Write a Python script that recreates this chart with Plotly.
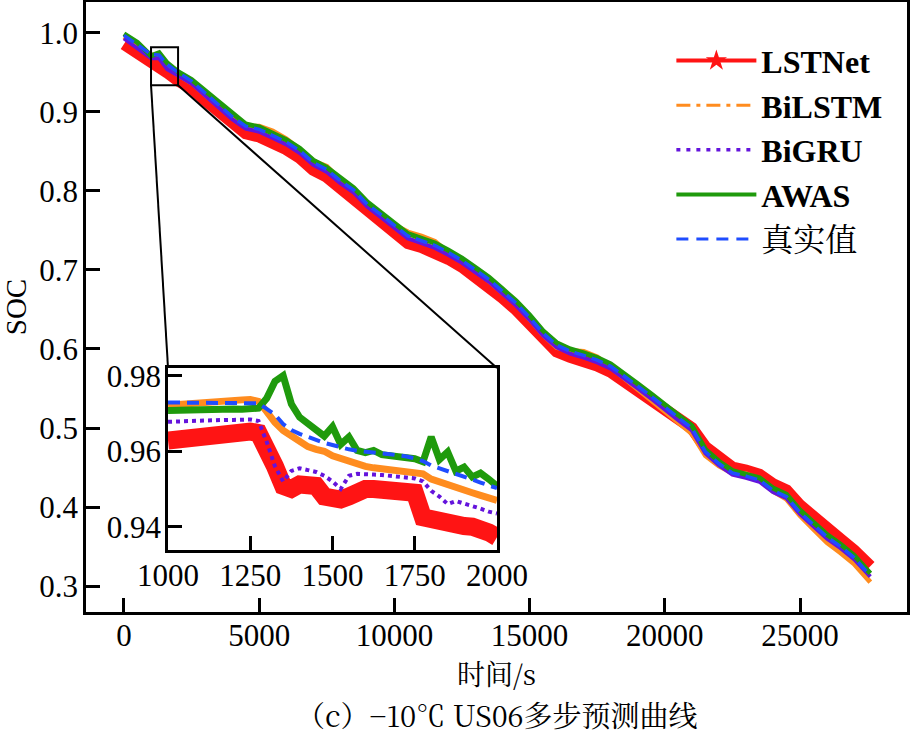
import plotly.graph_objects as go

# ---------------- data ----------------
series_names = ["LSTNet", "BiLSTM", "BiGRU", "AWAS", "真实值"]

time_s = [0, 500, 1000, 1300, 1600, 2000, 2500, 3000, 3500, 4000, 4500, 5000, 5500, 6000,
          6500, 7000, 7500, 8000, 8500, 9000, 9500, 10000, 10500, 11000, 11500, 12000, 12500,
          13000, 13500, 14000, 14500, 15000, 15500, 16000, 16500, 17000, 17500, 18000, 18500,
          19000, 19500, 20000, 20500, 21000, 21500, 22000, 22500, 23000, 23500, 24000, 24500,
          25000, 25500, 26000, 26500, 27000, 27600]

true_soc = [0.997, 0.985, 0.973, 0.972, 0.960, 0.950, 0.939, 0.924, 0.909, 0.894, 0.882, 0.878,
            0.870, 0.862, 0.851, 0.836, 0.827, 0.813, 0.801, 0.783, 0.770, 0.756, 0.743, 0.737,
            0.731, 0.722, 0.712, 0.700, 0.688, 0.673, 0.658, 0.640, 0.620, 0.605, 0.597, 0.592,
            0.586, 0.578, 0.566, 0.553, 0.540, 0.526, 0.513, 0.500, 0.470, 0.455, 0.443, 0.439,
            0.434, 0.421, 0.413, 0.393, 0.377, 0.362, 0.350, 0.336, 0.313]

lstnet_soc = [0.986, 0.975, 0.963, 0.960, 0.950, 0.940, 0.930, 0.915, 0.900, 0.885, 0.873, 0.869,
              0.862, 0.853, 0.842, 0.827, 0.818, 0.804, 0.792, 0.774, 0.761, 0.747, 0.734, 0.729,
              0.723, 0.714, 0.704, 0.692, 0.680, 0.665, 0.650, 0.632, 0.612, 0.597, 0.590, 0.585,
              0.579, 0.571, 0.559, 0.547, 0.535, 0.522, 0.511, 0.500, 0.476, 0.462, 0.450, 0.446,
              0.441, 0.429, 0.421, 0.402, 0.386, 0.371, 0.359, 0.345, 0.325]

bilstm_soc = [0.995, 0.984, 0.972, 0.972, 0.957, 0.947, 0.937, 0.922, 0.908, 0.893, 0.882, 0.882,
              0.876, 0.866, 0.853, 0.838, 0.831, 0.814, 0.802, 0.783, 0.770, 0.757, 0.748, 0.743,
              0.736, 0.722, 0.711, 0.699, 0.686, 0.671, 0.657, 0.638, 0.618, 0.602, 0.598, 0.597,
              0.590, 0.577, 0.563, 0.549, 0.536, 0.521, 0.506, 0.493, 0.465, 0.452, 0.443, 0.442,
              0.435, 0.420, 0.410, 0.389, 0.372, 0.355, 0.342, 0.328, 0.305]

bigru_soc = [0.993, 0.981, 0.968, 0.968, 0.954, 0.946, 0.936, 0.921, 0.906, 0.891, 0.879, 0.875,
             0.867, 0.859, 0.848, 0.833, 0.824, 0.810, 0.798, 0.780, 0.767, 0.753, 0.740, 0.734,
             0.728, 0.719, 0.709, 0.697, 0.685, 0.670, 0.655, 0.637, 0.617, 0.602, 0.594, 0.589,
             0.583, 0.575, 0.563, 0.550, 0.537, 0.523, 0.510, 0.497, 0.468, 0.453, 0.441, 0.437,
             0.432, 0.419, 0.411, 0.391, 0.375, 0.360, 0.348, 0.334, 0.312]

awas_soc = [0.999, 0.988, 0.971, 0.975, 0.962, 0.951, 0.941, 0.927, 0.912, 0.897, 0.885, 0.881,
            0.873, 0.865, 0.854, 0.839, 0.830, 0.816, 0.804, 0.786, 0.773, 0.759, 0.746, 0.740,
            0.734, 0.725, 0.715, 0.703, 0.691, 0.676, 0.661, 0.643, 0.623, 0.608, 0.600, 0.595,
            0.589, 0.581, 0.569, 0.556, 0.543, 0.529, 0.516, 0.503, 0.473, 0.458, 0.446, 0.442,
            0.437, 0.424, 0.416, 0.396, 0.380, 0.365, 0.353, 0.339, 0.316]

# zoomed window 1000-2000 s (inset)
zoom_time_s = [1000, 1025, 1050, 1075, 1100, 1125, 1150, 1175, 1200, 1225, 1250, 1275, 1300,
               1325, 1350, 1375, 1400, 1425, 1450, 1475, 1500, 1525, 1550, 1575, 1600, 1625,
               1650, 1675, 1700, 1725, 1750, 1775, 1800, 1825, 1850, 1875, 1900, 1925, 1950,
               1975, 2000]

zoom_true = [0.9729, 0.9729, 0.9729, 0.9729, 0.9729, 0.9729, 0.9729, 0.9729, 0.9729, 0.9729,
             0.9729, 0.9727, 0.9712, 0.9697, 0.9672, 0.9656, 0.9646, 0.9637, 0.9630, 0.9622,
             0.9616, 0.9610, 0.9605, 0.9601, 0.9598, 0.9596, 0.9594, 0.9592, 0.9590, 0.9586,
             0.9581, 0.9574, 0.9562, 0.9555, 0.9548, 0.9540, 0.9533, 0.9525, 0.9517, 0.9510,
             0.9502]

zoom_awas = [0.9708, 0.9709, 0.9710, 0.9709, 0.9710, 0.9711, 0.9710, 0.9711, 0.9712, 0.9711,
             0.9712, 0.9714, 0.9740, 0.9785, 0.9800, 0.9725, 0.9690, 0.9672, 0.9655, 0.9640,
             0.9665, 0.9618, 0.9638, 0.9602, 0.9596, 0.9602, 0.9591, 0.9589, 0.9587, 0.9584,
             0.9580, 0.9572, 0.9638, 0.9578, 0.9598, 0.9547, 0.9558, 0.9532, 0.9542, 0.9526,
             0.9508]

zoom_bilstm = [0.9722, 0.9724, 0.9725, 0.9727, 0.9728, 0.9730, 0.9731, 0.9733, 0.9734, 0.9736,
               0.9737, 0.9732, 0.9705, 0.9676, 0.9655, 0.9640, 0.9622, 0.9612, 0.9605, 0.9600,
               0.9588, 0.9580, 0.9574, 0.9566, 0.9560, 0.9556, 0.9553, 0.9551, 0.9550, 0.9547,
               0.9543, 0.9540, 0.9526, 0.9518, 0.9510, 0.9503, 0.9497, 0.9490, 0.9483, 0.9477,
               0.9470]

zoom_bigru = [0.9678, 0.9679, 0.9680, 0.9680, 0.9681, 0.9682, 0.9682, 0.9683, 0.9683, 0.9684,
              0.9684, 0.9680, 0.9625, 0.9560, 0.9520, 0.9548, 0.9555, 0.9550, 0.9545, 0.9535,
              0.9520, 0.9500, 0.9535, 0.9540, 0.9540, 0.9538, 0.9537, 0.9535, 0.9533, 0.9532,
              0.9528, 0.9520, 0.9495, 0.9480, 0.9460, 0.9468, 0.9462, 0.9455, 0.9448, 0.9440,
              0.9435]

zoom_lstnet = [0.9628, 0.9631, 0.9634, 0.9637, 0.9640, 0.9642, 0.9645, 0.9647, 0.9649, 0.9650,
               0.9652, 0.9648, 0.9610, 0.9560, 0.9508, 0.9500, 0.9512, 0.9510, 0.9508, 0.9480,
               0.9470, 0.9472, 0.9480, 0.9495, 0.9500, 0.9500, 0.9498, 0.9497, 0.9496, 0.9494,
               0.9490, 0.9425, 0.9418, 0.9414, 0.9410, 0.9405, 0.9402, 0.9400, 0.9396, 0.9385,
               0.9372]

x_ticks = [0, 5000, 10000, 15000, 20000, 25000]
y_ticks = [0.3, 0.4, 0.5, 0.6, 0.7, 0.8, 0.9, 1.0]
zoom_x_ticks = [1000, 1250, 1500, 1750, 2000]
zoom_y_ticks = [0.94, 0.96, 0.98]

x_title = "时间/s"
y_title = "SOC"
caption = "（c）−10℃ US06多步预测曲线"

# ---------------- styling ----------------
FONT = "Liberation Serif, Noto Serif CJK SC, Noto Sans CJK SC, serif"
CJK_FONT = "Noto Serif CJK SC, Noto Sans CJK SC, Liberation Serif, serif"
colors = {"LSTNet": "#ff1414", "BiLSTM": "#ff8c1f", "BiGRU": "#6414dc",
          "AWAS": "#1f9a0c", "真实值": "#1f4dff"}

main_range_x = [-1405, 28957]
main_range_y = [0.2671, 1.0392]
zoom_range_x = [1000, 2000]
zoom_range_y = [0.93383, 0.98204]
inset_dom_x = [0.0999, 0.5006]
inset_dom_y = [0.1016, 0.4]

fig = go.Figure()

main_data = [("LSTNet", lstnet_soc, dict(width=12)),
             ("BiLSTM", bilstm_soc, dict(width=5)),
             ("BiGRU", bigru_soc, dict(width=4)),
             ("AWAS", awas_soc, dict(width=5)),
             ("真实值", true_soc, dict(width=3.5, dash="12px,6px"))]
for name, vals, ln in main_data:
    fig.add_trace(go.Scatter(x=time_s, y=vals, mode="lines", name=name, showlegend=False,
                             line=dict(color=colors[name], **ln), xaxis="x", yaxis="y",
                             hoverinfo="skip"))

zoom_data = [("LSTNet", zoom_lstnet, dict(width=18)),
             ("BiLSTM", zoom_bilstm, dict(width=7)),
             ("BiGRU", zoom_bigru, dict(width=4, dash="4px,4px")),
             ("AWAS", zoom_awas, dict(width=7)),
             ("真实值", zoom_true, dict(width=4, dash="12px,7px"))]
for name, vals, ln in zoom_data:
    fig.add_trace(go.Scatter(x=zoom_time_s, y=vals, mode="lines", name=name, showlegend=False,
                             line=dict(color=colors[name], **ln), xaxis="x2", yaxis="y2",
                             hoverinfo="skip"))

# legend entries
legend_styles = {
    "LSTNet": dict(mode="lines+markers", line=dict(width=4),
                   marker=dict(symbol="star", size=16)),
    "BiLSTM": dict(mode="lines", line=dict(width=3, dash="14px,6px,4px,6px")),
    "BiGRU": dict(mode="lines", line=dict(width=3.5, dash="4px,6px")),
    "AWAS": dict(mode="lines", line=dict(width=4)),
    "真实值": dict(mode="lines", line=dict(width=3, dash="12px,8px")),
}
for i, name in enumerate(series_names):
    st = legend_styles[name]
    line = dict(color=colors[name], **st["line"])
    kw = dict(x=[None], y=[None], mode=st["mode"], name=f"<b>{name}</b>" if i < 4 else name,
              line=line, showlegend=True, xaxis="x", yaxis="y")
    if "marker" in st:
        kw["marker"] = dict(color=colors[name], **st["marker"])
    fig.add_trace(go.Scatter(**kw))

axis_common = dict(showline=True, linewidth=2.5, linecolor="black", mirror=True,
                   ticks="inside", ticklen=14, tickwidth=2.5, tickcolor="black",
                   showgrid=False, zeroline=False, automargin=False,
                   tickfont=dict(family=FONT, size=31, color="black"))

# geometry for zoom-connector lines, expressed in main-axis coordinates
def paper_to_main_x(p):
    return main_range_x[0] + p * (main_range_x[1] - main_range_x[0])

def paper_to_main_y(p):
    return main_range_y[0] + p * (main_range_y[1] - main_range_y[0])

inset_left = paper_to_main_x(inset_dom_x[0])
inset_right = paper_to_main_x(inset_dom_x[1])
inset_top = paper_to_main_y(inset_dom_y[1])

shapes = [
    dict(type="rect", xref="x", yref="y", x0=zoom_range_x[0], x1=zoom_range_x[1],
         y0=zoom_range_y[0], y1=zoom_range_y[1], line=dict(color="black", width=2)),
    dict(type="line", xref="x", yref="y", x0=zoom_range_x[0], y0=zoom_range_y[0],
         x1=inset_left, y1=inset_top, line=dict(color="black", width=2)),
    dict(type="line", xref="x", yref="y", x0=zoom_range_x[1], y0=zoom_range_y[0],
         x1=inset_right, y1=inset_top, line=dict(color="black", width=2)),
]

fig.update_layout(
    width=912, height=734,
    margin=dict(l=86, r=5, t=2, b=122, autoexpand=False),
    paper_bgcolor="white", plot_bgcolor="white",
    font=dict(family=FONT, color="black"),
    showlegend=True,
    legend=dict(x=0.713, y=0.9487, xanchor="left", yanchor="top",
                font=dict(family=FONT, size=32, color="black"),
                bgcolor="rgba(0,0,0,0)", itemwidth=80, traceorder="normal"),
    xaxis=dict(domain=[0, 1], range=main_range_x, tickvals=x_ticks, tickformat="d",
               ticklabelstandoff=-6,
               title=dict(text=x_title, font=dict(family=CJK_FONT, size=28, color="black"),
                          standoff=0),
               **axis_common),
    yaxis=dict(domain=[0, 1], range=main_range_y, tickvals=y_ticks, tickformat=".1f",
               ticklabelstandoff=-1,
               title=dict(text=y_title, font=dict(family=FONT, size=29, color="black"),
                          standoff=13),
               **axis_common),
    xaxis2=dict(domain=inset_dom_x, anchor="y2", range=zoom_range_x, tickvals=zoom_x_ticks,
                tickformat="d", ticklabelstandoff=-4, **axis_common),
    yaxis2=dict(domain=inset_dom_y, anchor="x2", range=zoom_range_y, tickvals=zoom_y_ticks,
                tickformat=".2f", ticklabelstandoff=-2, **axis_common),
    shapes=shapes,
    annotations=[dict(text=caption, xref="paper", yref="paper", x=0.5, y=-0.1680,
                      xanchor="center", yanchor="middle", showarrow=False,
                      font=dict(family=CJK_FONT, size=29, color="black"))],
)

fig.write_html("out.html", config={"displayModeBar": False},
               post_script="document.body.style.margin='0px';")
